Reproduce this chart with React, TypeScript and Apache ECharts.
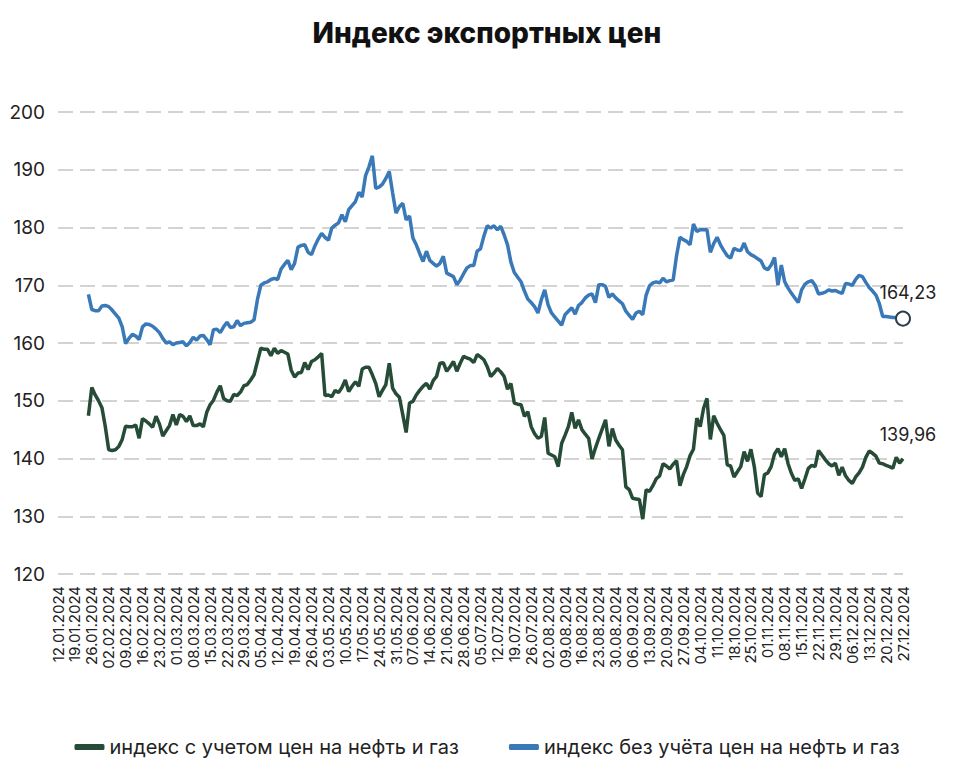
import React, { useEffect, useRef } from "react";
import * as echarts from "echarts";

const titleText = "Индекс экспортных цен";
const seriesNames = ["индекс с учетом цен на нефть и газ", "индекс без учёта цен на нефть и газ"];

const tickLabels = [
  "12.01.2024", "19.01.2024", "26.01.2024", "02.02.2024", "09.02.2024", "16.02.2024", "23.02.2024",
  "01.03.2024", "08.03.2024", "15.03.2024", "22.03.2024", "29.03.2024", "05.04.2024", "12.04.2024",
  "19.04.2024", "26.04.2024", "03.05.2024", "10.05.2024", "17.05.2024", "24.05.2024", "31.05.2024",
  "07.06.2024", "14.06.2024", "21.06.2024", "28.06.2024", "05.07.2024", "12.07.2024", "19.07.2024",
  "26.07.2024", "02.08.2024", "09.08.2024", "16.08.2024", "23.08.2024", "30.08.2024", "06.09.2024",
  "13.09.2024", "20.09.2024", "27.09.2024", "04.10.2024", "11.10.2024", "18.10.2024", "25.10.2024",
  "01.11.2024", "08.11.2024", "15.11.2024", "22.11.2024", "29.11.2024", "06.12.2024", "13.12.2024",
  "20.12.2024", "27.12.2024",
];

// first trading day with data
const dataStartDate = "25.01.2024";

// index excluding oil & gas (blue), one value per weekday from 25.01.2024
const blueValues = [
  168.4,
  165.8, 165.6, 165.6, 166.4, 166.5, 166.3, 165.7, 165.0, 164.3, 162.8,
  159.9, 160.8, 161.5, 161.2, 160.6, 162.8, 163.3, 163.2, 162.9, 162.4,
  161.8, 160.8, 160.0, 160.2, 159.7, 160.0, 160.1, 160.2, 159.5, 160.1,
  161.0, 160.5, 161.2, 161.3, 160.6, 159.7, 162.3, 162.4, 161.8, 162.8,
  163.6, 162.7, 162.8, 163.9, 163.0, 163.4, 163.5, 163.6, 164.0, 167.5,
  170.0, 170.4, 170.6, 171.0, 171.2, 171.0, 172.8, 173.6, 174.3, 172.7,
  173.8, 176.6, 176.9, 177.0, 175.7, 175.3, 176.8, 178.0, 179.0, 178.3,
  177.8, 179.9, 180.4, 180.8, 182.2, 181.0, 183.1, 183.8, 184.5, 186.1,
  185.3, 189.0, 190.5, 192.4, 186.8, 187.0, 187.5, 188.5, 189.7, 186.0,
  182.5, 183.6, 184.2, 181.3, 182.0, 178.2, 177.0, 175.5, 174.1, 175.9,
  174.3, 173.8, 173.3, 173.8, 175.0, 172.1, 171.8, 171.5, 170.1, 170.9,
  172.0, 173.0, 173.4, 173.4, 175.9, 176.3, 178.5, 180.3, 179.9, 180.3,
  179.6, 180.2, 178.7, 177.0, 174.0, 172.2, 171.4, 170.6, 169.0, 167.6,
  167.0, 166.3, 165.2, 167.5, 169.2, 166.6, 165.2, 164.5, 163.8, 163.1,
  164.9, 165.5, 166.1, 165.0, 166.5, 167.0, 167.8, 168.3, 168.5, 167.0,
  170.1, 170.1, 169.8, 167.9, 168.5, 167.8, 167.3, 166.8, 165.5, 164.8,
  164.1, 165.2, 165.5, 164.9, 168.3, 169.9, 170.4, 170.6, 170.4, 171.2,
  170.6, 170.8, 170.9, 175.1, 178.3, 177.9, 177.6, 177.0, 180.6, 179.3,
  179.6, 179.6, 179.6, 175.7, 177.2, 178.3, 177.0, 176.0, 175.1, 174.7,
  176.4, 176.1, 176.0, 177.3, 175.8, 175.3, 175.0, 174.6, 174.2, 173.0,
  172.7, 173.5, 174.8, 170.0, 173.5, 170.6, 169.5, 168.6, 167.8, 167.0,
  169.2, 170.2, 170.6, 170.8, 170.0, 168.5, 168.6, 168.8, 169.2, 169.0,
  169.1, 168.8, 168.6, 170.3, 170.2, 170.0, 171.0, 171.7, 171.5, 170.5,
  169.6, 169.0, 168.3, 166.8, 164.6, 164.6, 164.5, 164.4, 164.4, 164.3, 164.23,
];

// index including oil & gas (green)
const greenValues = [
  147.4,
  152.3, 151.0, 150.0, 148.8, 145.5, 141.5, 141.4, 141.5, 142.1, 143.3,
  145.6, 145.5, 145.5, 145.8, 143.5, 146.9, 146.5, 146.0, 145.4, 147.3,
  146.0, 143.9, 144.8, 145.7, 147.6, 145.8, 147.6, 147.3, 146.4, 147.4,
  145.7, 145.7, 146.0, 145.5, 148.0, 149.3, 150.1, 151.5, 152.6, 150.4,
  150.0, 149.9, 151.1, 150.9, 151.5, 152.6, 152.8, 153.6, 154.5, 156.8,
  159.1, 158.9, 158.9, 157.8, 159.1, 158.2, 158.7, 158.4, 158.1, 155.3,
  154.1, 154.8, 154.9, 156.6, 155.4, 156.8, 157.1, 157.6, 158.2, 150.9,
  151.0, 150.7, 151.8, 151.4, 152.3, 153.6, 151.6, 152.5, 153.3, 152.5,
  155.5, 155.8, 155.8, 154.5, 153.0, 150.7, 151.8, 152.8, 156.5, 152.2,
  151.2, 150.6, 147.6, 144.5, 149.6, 149.9, 151.0, 151.8, 152.5, 153.0,
  152.0, 153.5, 154.2, 156.5, 156.6, 155.1, 155.9, 156.8, 155.1, 156.5,
  157.7, 157.4, 157.2, 156.6, 158.0, 157.6, 157.1, 155.9, 154.2, 154.8,
  155.6, 155.0, 154.2, 152.0, 153.0, 149.6, 149.4, 149.3, 147.3, 148.1,
  145.5, 144.3, 143.5, 143.8, 147.1, 140.9, 140.6, 140.3, 138.6, 142.6,
  144.0, 145.5, 148.0, 145.2, 146.7, 145.0, 144.2, 143.5, 139.9, 141.8,
  143.5, 145.1, 146.7, 142.1, 145.2, 143.2, 142.3, 141.5, 135.1, 134.6,
  133.1, 133.0, 132.9, 129.5, 134.6, 134.3, 135.3, 136.5, 137.0, 139.1,
  138.7, 138.2, 139.0, 139.6, 135.3, 137.2, 138.6, 140.5, 141.6, 147.0,
  145.5, 148.7, 150.4, 143.3, 147.4, 146.1, 145.0, 144.0, 138.9, 138.7,
  136.8, 137.7, 138.6, 141.2, 139.5, 141.6, 138.6, 134.0, 133.4, 137.2,
  137.5, 138.6, 140.8, 141.7, 140.3, 141.7, 139.1, 137.4, 136.2, 136.5,
  134.8, 136.5, 138.3, 138.8, 138.6, 141.4, 140.6, 139.8, 139.1, 138.7,
  139.2, 137.1, 138.5, 137.0, 136.2, 135.7, 136.8, 137.5, 138.5, 140.2,
  141.3, 140.9, 140.4, 139.2, 139.1, 138.8, 138.6, 138.3, 140.2, 139.2, 139.96,
];

const yMin = 120;
const yMax = 200;
const yStep = 10;

const GREEN = "#264b36";
const BLUE = "#3a79b8";
const FONT = "Inter, 'Noto Sans', sans-serif";

function fmtDate(d: Date) {
  const dd = String(d.getUTCDate()).padStart(2, "0");
  const mm = String(d.getUTCMonth() + 1).padStart(2, "0");
  return `${dd}.${mm}.${d.getUTCFullYear()}`;
}

function parseDate(s: string) {
  const [dd, mm, yy] = s.split(".").map(Number);
  return new Date(Date.UTC(yy, mm - 1, dd));
}

// weekday categories from first to last tick label
function buildCategories() {
  const out: string[] = [];
  const start = parseDate(tickLabels[0]);
  const end = parseDate(tickLabels[tickLabels.length - 1]);
  for (let t = start.getTime(); t <= end.getTime(); t += 86400000) {
    const d = new Date(t);
    const wd = d.getUTCDay();
    if (wd === 0 || wd === 6) continue;
    out.push(fmtDate(d));
  }
  return out;
}

function fmtNum(v: number) {
  return v.toFixed(2).replace(".", ",");
}

export default function App() {
  const ref = useRef<HTMLDivElement>(null);

  useEffect(() => {
    if (!ref.current) return;
    const chart = echarts.init(ref.current, null, { renderer: "svg" });
    const categories = buildCategories();
    const startIdx = categories.indexOf(dataStartDate);
    const tickSet = new Set(tickLabels);

    const buildSeries = (values: number[], marker: boolean, labelOffsetY: number) => {
      const arr: any[] = new Array(startIdx).fill(null);
      values.forEach((v, k) => {
        const isLast = k === values.length - 1;
        if (isLast) {
          arr.push({
            value: v,
            symbol: "circle",
            symbolSize: marker ? 14 : 1,
            itemStyle: marker
              ? { color: "#ffffff", borderColor: "#2b3b4c", borderWidth: 2 }
              : { color: "rgba(0,0,0,0)", borderWidth: 0 },
            label: {
              show: true,
              position: "top",
              offset: [5, labelOffsetY],
              formatter: () => fmtNum(v),
              fontSize: 18,
              color: "#222222",
              fontFamily: FONT,
            },
          });
        } else {
          arr.push(v);
        }
      });
      return arr;
    };

    chart.setOption({
      animation: false,
      backgroundColor: "#ffffff",
      title: {
        text: titleText,
        left: "center",
        top: 14,
        textStyle: { fontSize: 28, fontWeight: 800, color: "#111111", fontFamily: FONT },
      },
      legend: {
        bottom: 15,
        left: "center",
        itemGap: 50,
        itemWidth: 30,
        itemHeight: 6,
        icon: "roundRect",
        textStyle: { fontSize: 20, color: "#222222", fontFamily: FONT },
        data: seriesNames,
      },
      grid: { left: 58, right: 71, top: 112, bottom: 203 },
      xAxis: {
        type: "category",
        data: categories,
        boundaryGap: false,
        axisLine: { show: false },
        axisTick: { show: false },
        splitLine: { show: false },
        axisLabel: {
          interval: (index: number, value: string) => tickSet.has(value),
          rotate: 90,
          margin: 12,
          fontSize: 15,
          color: "#222222",
          fontFamily: FONT,
        },
      },
      yAxis: {
        type: "value",
        min: yMin,
        max: yMax,
        interval: yStep,
        axisLine: { show: false },
        axisTick: { show: false },
        axisLabel: { fontSize: 19, color: "#222222", margin: 13, fontFamily: FONT },
        splitLine: { lineStyle: { color: "#d3d3d3", width: 2, type: [15, 7] } },
      },
      series: [
        {
          name: seriesNames[0],
          type: "line",
          data: buildSeries(greenValues, false, -10),
          symbol: "none",
          showSymbol: true,
          showAllSymbol: true,
          lineStyle: { color: GREEN, width: 3.5 },
          itemStyle: { color: GREEN },
          z: 3,
        },
        {
          name: seriesNames[1],
          type: "line",
          data: buildSeries(blueValues, true, -4),
          symbol: "none",
          showSymbol: true,
          showAllSymbol: true,
          lineStyle: { color: BLUE, width: 3.5 },
          itemStyle: { color: BLUE },
          z: 4,
        },
      ],
    });
    return () => chart.dispose();
  }, []);

  return (
    <div
      ref={ref}
      style={{ position: "fixed", left: 0, top: 0, width: 974, height: 777, background: "#fff" }}
    />
  );
}
